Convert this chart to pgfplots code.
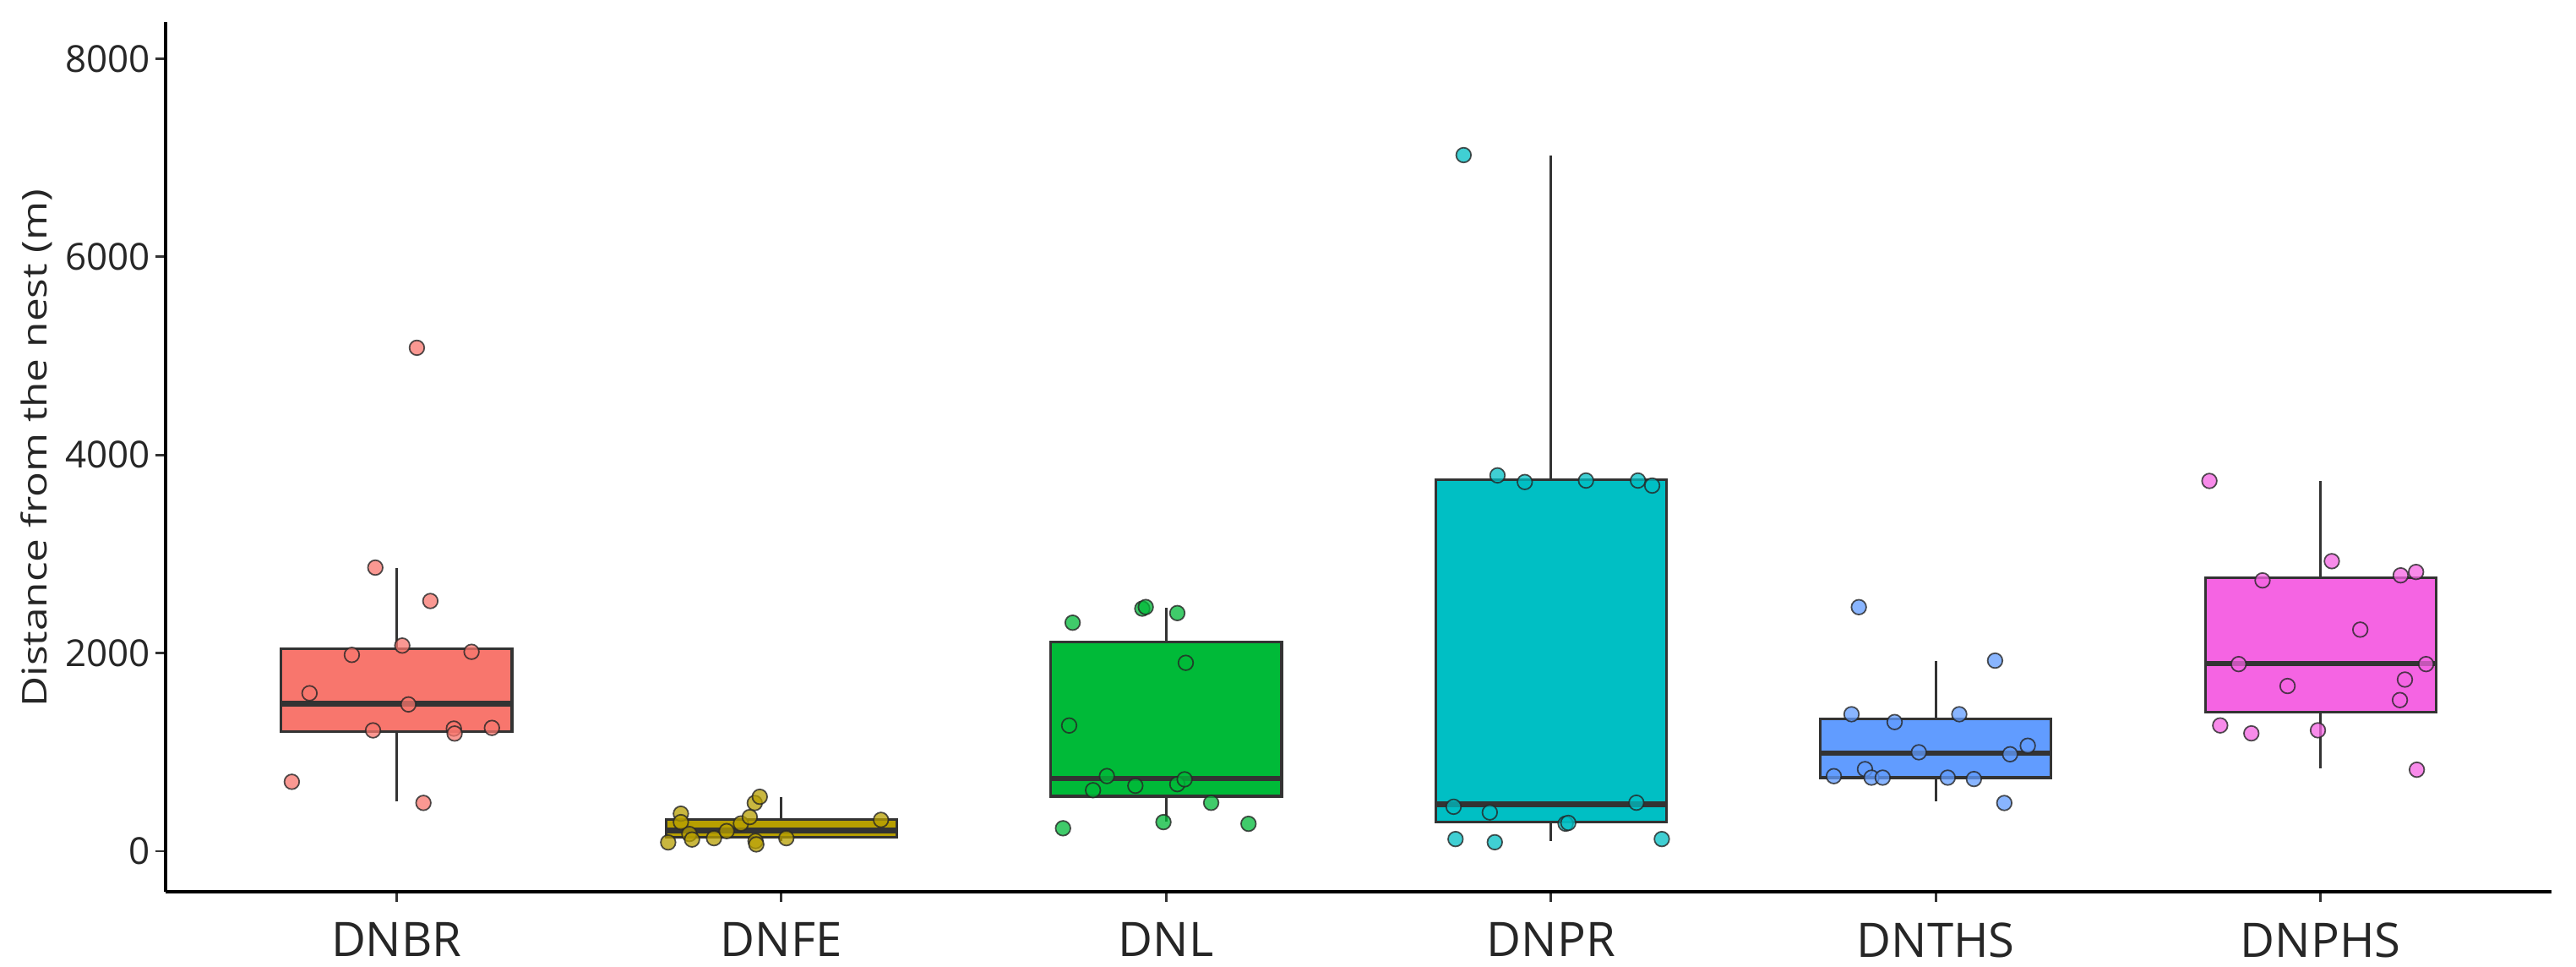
\documentclass[border=0pt]{standalone}
\usepackage{pgfplots}
\pgfplotsset{compat=1.18}
\usepackage{fontspec}
\setmainfont{Open Sans}
\definecolor{cA}{HTML}{F8766D}
\definecolor{cB}{HTML}{B79F00}
\definecolor{cC}{HTML}{00BA38}
\definecolor{cD}{HTML}{00BFC4}
\definecolor{cE}{HTML}{619CFF}
\definecolor{cF}{HTML}{F564E3}
\definecolor{boxline}{HTML}{333333}

\pgfplotstableread{
x y
1.053 5081
0.945 2862
1.088 2525
1.015 2075
0.884 1981
1.195 2012
0.774 1594
1.031 1481
0.939 1219
1.149 1237
1.151 1187
1.248 1244
0.728 700
1.070 487
}\ptsA
\pgfplotstableread{
x y
1.706 88
1.739 378
1.739 293
1.761 173
1.768 117
1.825 131
1.858 202
1.895 279
1.918 344
1.931 486
1.944 549
1.933 102
1.935 68
2.013 131
2.259 316
}\ptsB
\pgfplotstableread{
x y
2.757 2306
2.938 2448
2.947 2464
3.029 2403
3.051 1901
2.748 1268
2.846 758
2.810 615
2.920 660
3.029 676
3.048 725
3.117 488
2.993 293
3.214 276
2.732 231
}\ptsC
\pgfplotstableread{
x y
3.773 7026
3.861 3793
3.932 3726
4.091 3741
4.226 3741
4.263 3690
3.747 448
3.841 391
4.222 489
4.038 277
4.045 285
3.752 122
3.854 90
4.288 122
}\ptsD
\pgfplotstableread{
x y
4.800 2463
5.154 1923
4.781 1382
4.893 1303
5.061 1382
4.956 998
5.193 978
5.239 1064
4.735 757
4.816 828
4.833 742
4.862 742
5.031 742
5.099 728
5.178 486
}\ptsE
\pgfplotstableread{
x y
5.711 3737
6.029 2927
5.849 2733
6.208 2784
6.248 2818
6.103 2236
5.787 1888
6.274 1888
5.914 1667
6.219 1732
6.206 1525
5.739 1269
5.820 1189
5.993 1220
6.250 822
}\ptsF

\pgfplotsset{
  wh/.style={draw=boxline, line width=0.85pt, mark=none},
  bxx/.style={draw=boxline, line width=0.9pt, fill=#1, mark=none, line join=miter},
  med/.style={draw=boxline, line width=1.9pt, mark=none, line cap=butt},
  pts/.style={only marks, mark=*, mark size=2.5pt,
    mark options={draw=black!85, line width=0.5pt, fill=#1, fill opacity=0.75, draw opacity=0.8}},
}

\begin{document}
\begin{tikzpicture}
\path[use as bounding box] (0,0) rectangle (30.49cm,11.44cm);
\begin{axis}[
  at={(1.96cm,0.89cm)}, anchor=south west,
  scale only axis,
  width=28.24cm, height=10.29cm,
  xmin=0.4, xmax=6.6,
  ymin=-410, ymax=8370,
  axis lines*=left,
  axis line style={line width=1.1pt, black},
  xtick={1,2,3,4,5,6},
  xticklabels={DNBR,DNFE,DNL,DNPR,DNTHS,DNPHS},
  ytick={0,2000,4000,6000,8000},
  tick align=outside,
  major tick length=0.12cm,
  tick style={line width=0.8pt, black!80},
  /pgf/number format/assume math mode=true,
  /pgf/number format/set thousands separator={},
  yticklabel style={font=\fontsize{12.5}{14}\selectfont, text=black!85, inner sep=1.5pt},
  xticklabel style={font=\fontsize{16}{18}\selectfont, text=black!85, yshift=-0.12cm},
  ylabel={\scalebox{1.225}[1]{\fontsize{11.5}{13}\selectfont Distance from the nest (m)}},
  every axis y label/.style={at={(axis description cs:0,0.51)}, xshift=-1.53cm, rotate=90, anchor=center, text=black!85},
  clip=false,
]
% DNBR
\addplot[wh] coordinates {(1,500) (1,1206)};
\addplot[wh] coordinates {(1,2044) (1,2862)};
\addplot[bxx=cA] coordinates {(0.7,1206) (1.3,1206) (1.3,2044) (0.7,2044)} -- cycle;
\addplot[med] coordinates {(0.7,1487) (1.3,1487)};
% DNFE
\addplot[wh] coordinates {(2,100) (2,137)};
\addplot[wh] coordinates {(2,322) (2,549)};
\addplot[bxx=cB] coordinates {(1.7,137) (2.3,137) (2.3,322) (1.7,322)} -- cycle;
\addplot[med] coordinates {(1.7,208) (2.3,208)};
% DNL
\addplot[wh] coordinates {(3,297) (3,554)};
\addplot[wh] coordinates {(3,2113) (3,2460)};
\addplot[bxx=cC] coordinates {(2.7,554) (3.3,554) (3.3,2113) (2.7,2113)} -- cycle;
\addplot[med] coordinates {(2.7,734) (3.3,734)};
% DNPR
\addplot[wh] coordinates {(4,101) (4,293)};
\addplot[wh] coordinates {(4,3747) (4,7020)};
\addplot[bxx=cD] coordinates {(3.7,293) (4.3,293) (4.3,3747) (3.7,3747)} -- cycle;
\addplot[med] coordinates {(3.7,474) (4.3,474)};
% DNTHS
\addplot[wh] coordinates {(5,501) (5,742)};
\addplot[wh] coordinates {(5,1334) (5,1923)};
\addplot[bxx=cE] coordinates {(4.7,742) (5.3,742) (5.3,1334) (4.7,1334)} -- cycle;
\addplot[med] coordinates {(4.7,990) (5.3,990)};
% DNPHS
\addplot[wh] coordinates {(6,834) (6,1405)};
\addplot[wh] coordinates {(6,2762) (6,3737)};
\addplot[bxx=cF] coordinates {(5.7,1405) (6.3,1405) (6.3,2762) (5.7,2762)} -- cycle;
\addplot[med] coordinates {(5.7,1894) (6.3,1894)};

\addplot[pts=cA] table[x=x,y=y] {\ptsA};
\addplot[pts=cB] table[x=x,y=y] {\ptsB};
\addplot[pts=cC] table[x=x,y=y] {\ptsC};
\addplot[pts=cD] table[x=x,y=y] {\ptsD};
\addplot[pts=cE] table[x=x,y=y] {\ptsE};
\addplot[pts=cF] table[x=x,y=y] {\ptsF};
\end{axis}
\end{tikzpicture}
\end{document}
